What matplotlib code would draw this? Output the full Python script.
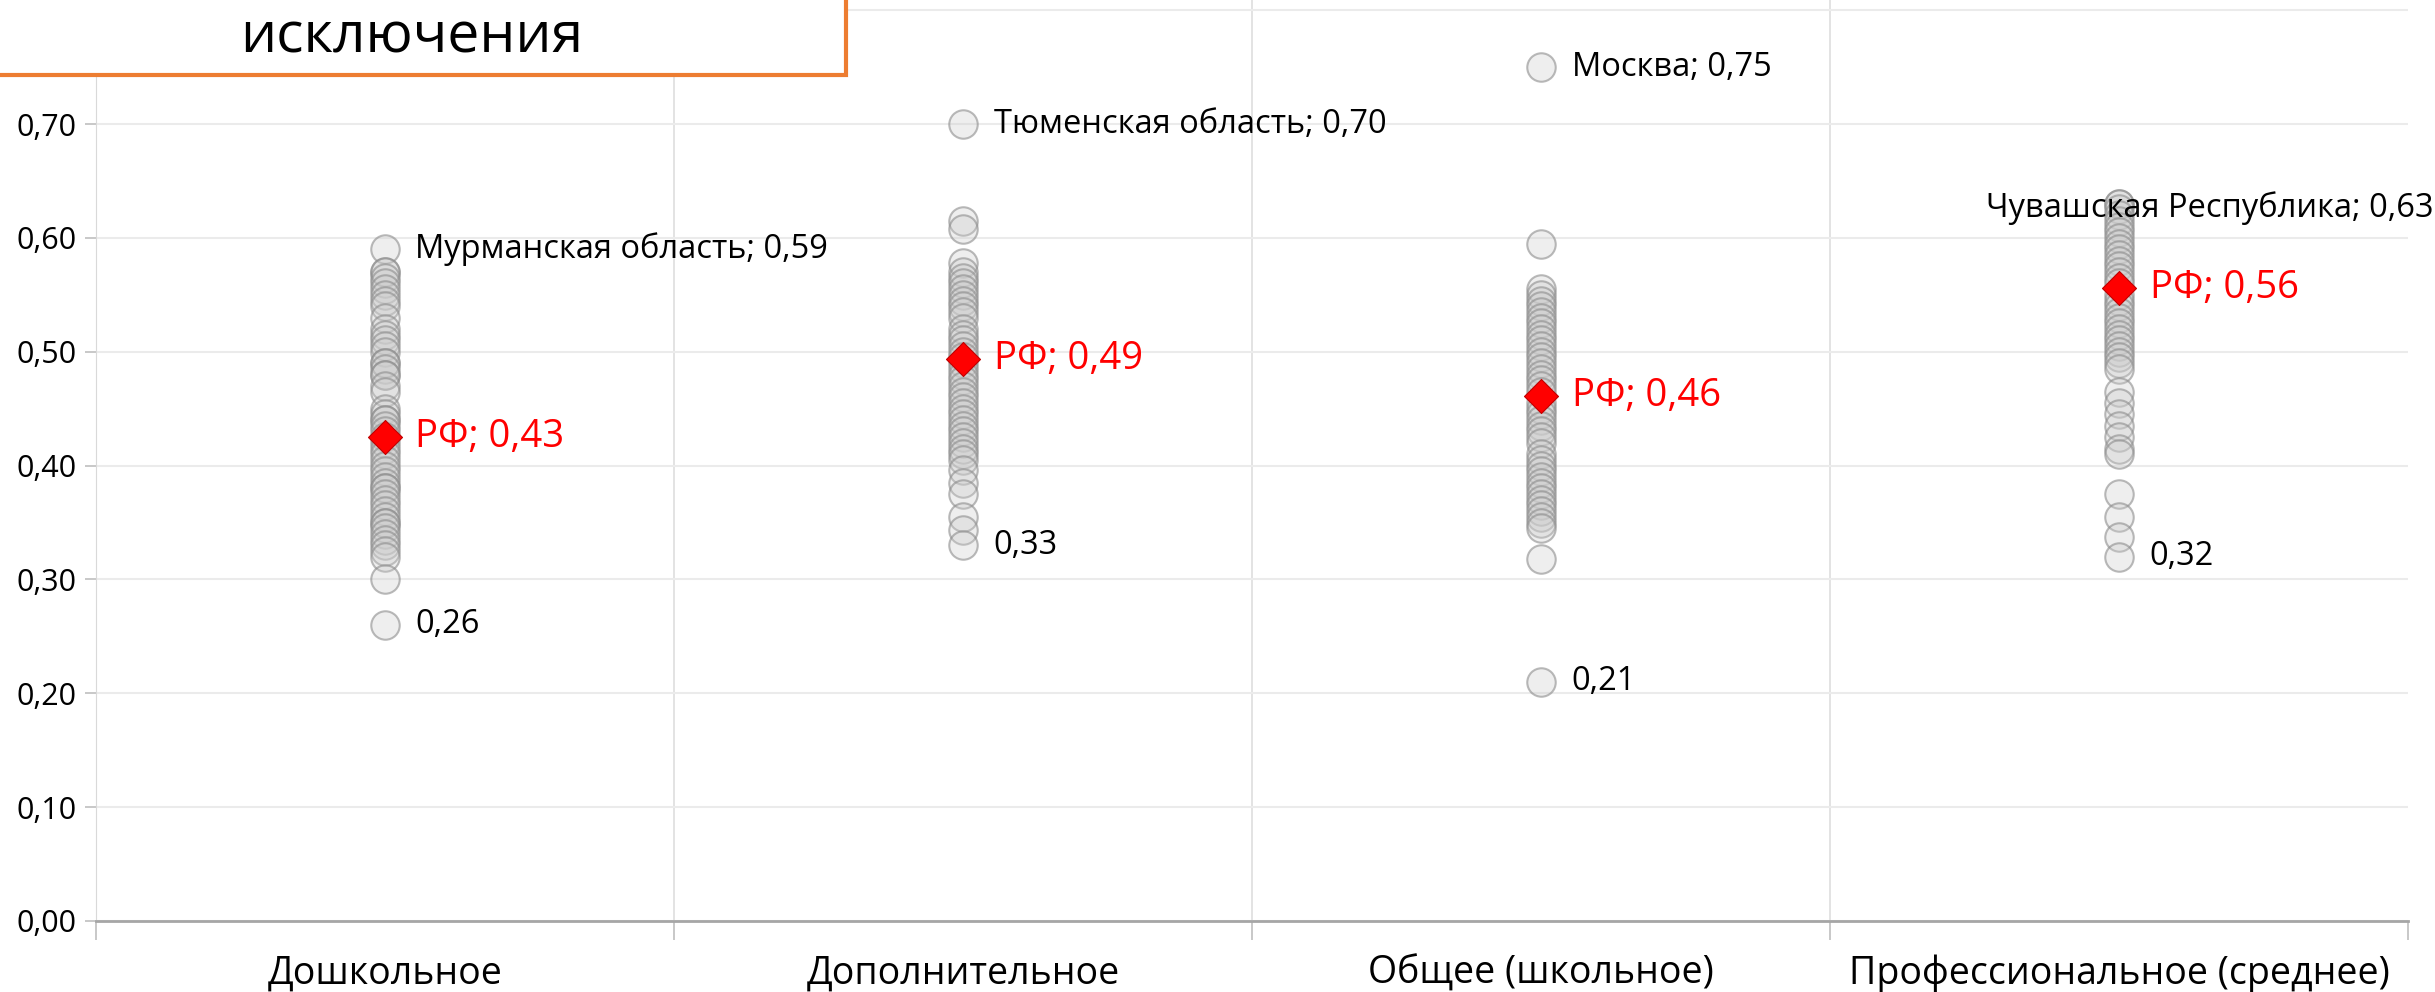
import matplotlib.pyplot as plt
from matplotlib.patches import Rectangle

plt.rcParams['font.family'] = ['Open Sans', 'DejaVu Sans']

# ----- Data -----
categories = ['Дошкольное', 'Дополнительное', 'Общее (школьное)', 'Профессиональное (среднее)']

preschool = [0.59, 0.57, 0.57, 0.565, 0.56, 0.555, 0.55, 0.545, 0.54, 0.53, 0.52, 0.515,
             0.51, 0.505, 0.50, 0.49, 0.49, 0.485, 0.48, 0.48, 0.47, 0.465, 0.45, 0.445,
             0.44, 0.44, 0.435, 0.43, 0.425, 0.42, 0.415, 0.41, 0.405, 0.40, 0.395, 0.39,
             0.385, 0.38, 0.38, 0.375, 0.37, 0.365, 0.36, 0.355, 0.35, 0.35, 0.345, 0.34,
             0.335, 0.33, 0.325, 0.32, 0.30, 0.26]
additional = [0.70, 0.615, 0.608, 0.578, 0.57, 0.565, 0.56, 0.555, 0.55, 0.545, 0.54, 0.535,
              0.53, 0.52, 0.515, 0.51, 0.505, 0.50, 0.495, 0.49, 0.485, 0.48, 0.475, 0.47,
              0.465, 0.46, 0.455, 0.45, 0.445, 0.44, 0.435, 0.43, 0.425, 0.42, 0.415, 0.41,
              0.405, 0.396, 0.385, 0.375, 0.355, 0.343, 0.33]
general = [0.75, 0.595, 0.555, 0.55, 0.545, 0.54, 0.535, 0.53, 0.525, 0.52, 0.515, 0.51,
           0.505, 0.50, 0.495, 0.49, 0.485, 0.48, 0.475, 0.47, 0.465, 0.455, 0.45, 0.445,
           0.44, 0.435, 0.43, 0.425, 0.42, 0.41, 0.405, 0.40, 0.395, 0.39, 0.385, 0.38,
           0.375, 0.37, 0.365, 0.36, 0.355, 0.35, 0.345, 0.318, 0.21]
vocational = [0.63, 0.63, 0.625, 0.62, 0.615, 0.61, 0.605, 0.60, 0.595, 0.59, 0.585, 0.58,
              0.575, 0.57, 0.565, 0.56, 0.55, 0.545, 0.54, 0.535, 0.53, 0.525, 0.52, 0.515,
              0.51, 0.505, 0.50, 0.495, 0.49, 0.485, 0.465, 0.455, 0.445, 0.435, 0.425,
              0.415, 0.41, 0.375, 0.355, 0.337, 0.32]
series = [preschool, additional, general, vocational]

rf_values = [0.425, 0.494, 0.461, 0.556]
rf_labels = ['РФ; 0,43', 'РФ; 0,49', 'РФ; 0,46', 'РФ; 0,56']

max_labels = ['Мурманская область; 0,59', 'Тюменская область; 0,70', 'Москва; 0,75',
              'Чувашская Республика; 0,63']
min_labels = ['0,26', '0,33', '0,21', '0,32']

# ----- Figure -----
fig = plt.figure(figsize=(24.35, 9.92), dpi=100)
ax = fig.add_axes([0.0394, 0.0716, 0.9495, 0.9284])

for i, vals in enumerate(series):
    x = [i + 1] * len(vals)
    ax.scatter(x, vals, s=420, facecolor=(0.80, 0.80, 0.80, 0.33),
               edgecolor=(0.55, 0.55, 0.55, 0.6), linewidth=1.5, zorder=3)

ax.scatter(range(1, 5), rf_values, marker='D', s=300, color='red',
           edgecolor='#c00000', linewidth=0.8, zorder=4)

# labels
for i, vals in enumerate(series):
    top = max(vals)
    low = min(vals)
    if i == 3:
        ax.annotate(max_labels[i], (i + 1, top), xytext=(-96, -3), textcoords='offset points',
                    ha='left', va='center', fontsize=23.5, zorder=5)
    else:
        ax.annotate(max_labels[i], (i + 1, top), xytext=(22, 0), textcoords='offset points',
                    ha='left', va='center', fontsize=23.5, zorder=5)
    ax.annotate(min_labels[i], (i + 1, low), xytext=(22, 0), textcoords='offset points',
                ha='left', va='center', fontsize=23.5, zorder=5)
    ax.annotate(rf_labels[i], (i + 1, rf_values[i]), xytext=(22, 0), textcoords='offset points',
                ha='left', va='center', fontsize=27.5, color='red', zorder=5)

# axes styling
ax.set_xlim(0.5, 4.5)
ax.set_ylim(0, 0.809)
yt = [i / 10 for i in range(9)]
ax.set_yticks(yt)
ax.set_yticklabels([f'{v:.2f}'.replace('.', ',') for v in yt], fontsize=22)
ax.set_xticks([1, 2, 3, 4])
ax.set_xticklabels(categories, fontsize=27)
ax.set_xticks([0.5, 1.5, 2.5, 3.5, 4.5], minor=True)
ax.tick_params(axis='x', which='major', length=0, pad=24)
ax.tick_params(axis='x', which='minor', length=14, color='#bfbfbf', width=1.2)
ax.tick_params(axis='y', length=8, color='#bfbfbf', width=1.2, pad=6)

ax.grid(axis='y', color='#ebebeb', linewidth=1.5, zorder=0)
for xv in [1.5, 2.5, 3.5]:
    ax.axvline(xv, color='#dedede', linewidth=1.2, zorder=0)

for s in ['top', 'right']:
    ax.spines[s].set_visible(False)
ax.spines['left'].set_color('#d9d9d9')
ax.spines['bottom'].set_color('#a6a6a6')
ax.spines['bottom'].set_linewidth(2)

# title box in the top-left corner
fig.patches.append(Rectangle((-0.01, 1 - 75 / 992), 846 / 2435 + 0.01, 0.2,
                             transform=fig.transFigure, facecolor='white',
                             edgecolor='#ed7d31', linewidth=3, zorder=10))
fig.text(412 / 2435, 1 - 38 / 992, 'исключения', fontsize=41, ha='center', va='center',
         zorder=11)

fig.savefig('out.png', dpi=100)
